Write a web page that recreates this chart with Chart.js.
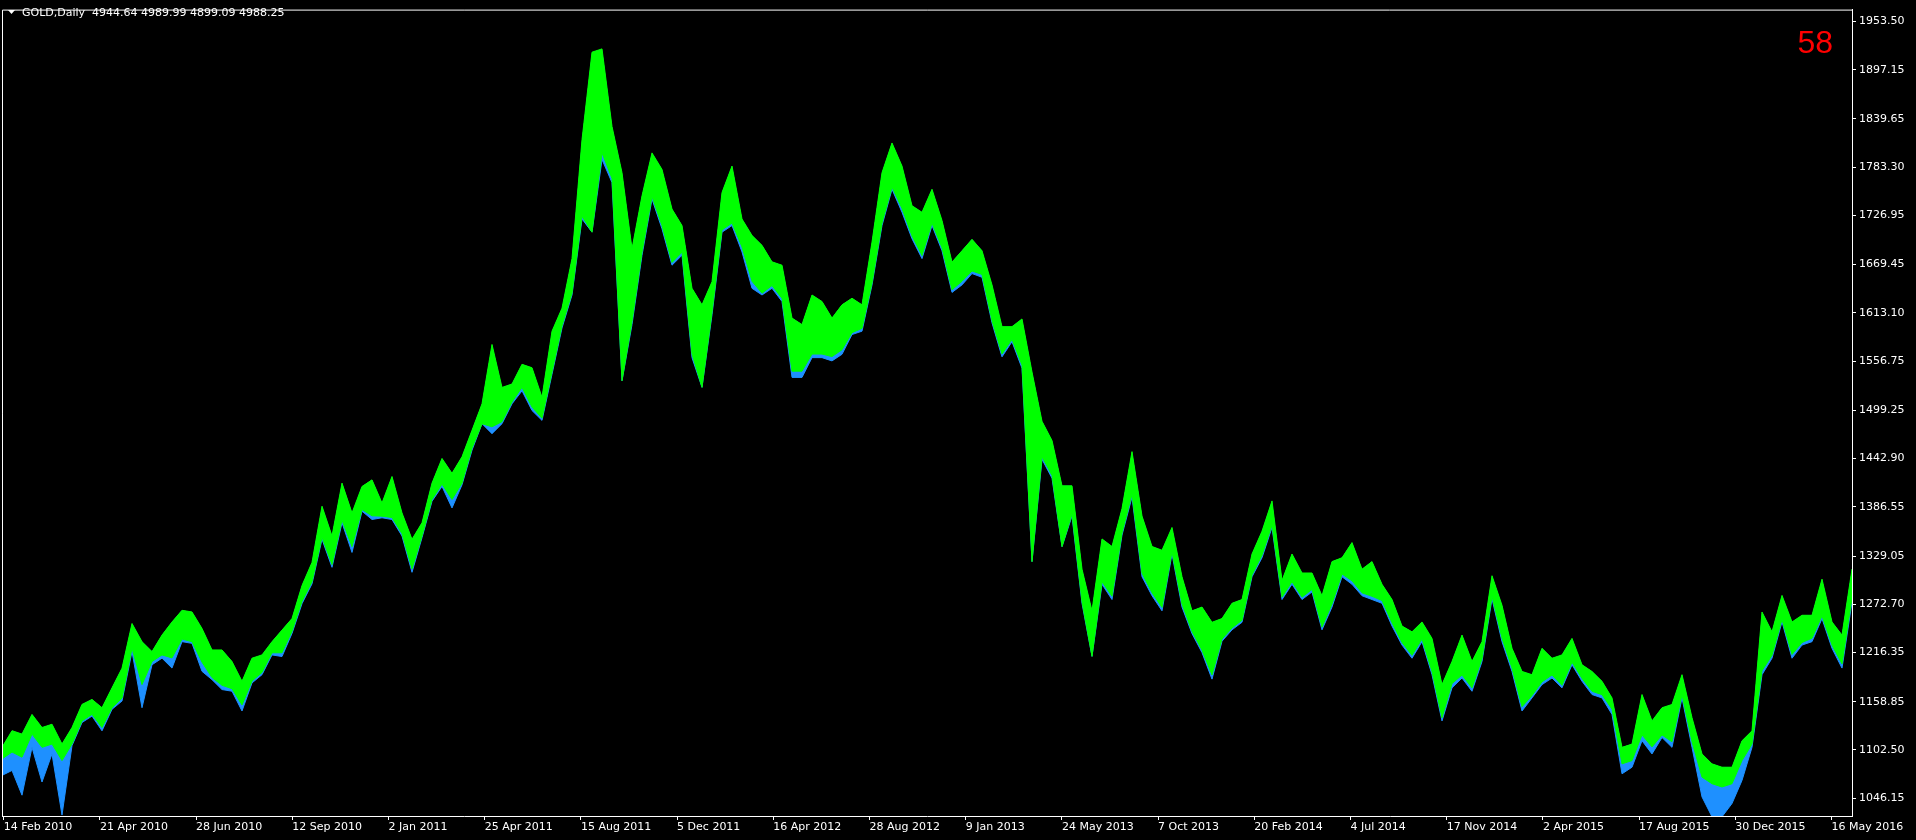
<!DOCTYPE html>
<html>
<head>
<meta charset="utf-8">
<script src="https://cdn.jsdelivr.net/npm/chart.js@4.4.1/dist/chart.umd.min.js"></script>
<style>
  html, body { margin: 0; padding: 0; background: #000; overflow: hidden; }
  canvas { display: block; }
</style>
</head>
<body>
<canvas id="chart" width="1916" height="840"></canvas>
<script>
const symbolTitle = 'GOLD,Daily  4944.64 4989.99 4899.09 4988.25';
const counterText = '58';

const dateLabels = ['14 Feb 2010', '21 Apr 2010', '28 Jun 2010', '12 Sep 2010', '2 Jan 2011',
  '25 Apr 2011', '15 Aug 2011', '5 Dec 2011', '16 Apr 2012', '28 Aug 2012', '9 Jan 2013',
  '24 May 2013', '7 Oct 2013', '20 Feb 2014', '4 Jul 2014', '17 Nov 2014', '2 Apr 2015',
  '17 Aug 2015', '30 Dec 2015', '16 May 2016'];

const priceTicks = [1953.50, 1897.15, 1839.65, 1783.30, 1726.95, 1669.45, 1613.10, 1556.75,
  1499.25, 1442.90, 1386.55, 1329.05, 1272.70, 1216.35, 1158.85, 1102.50, 1046.15];

// highest price in each slice of bars
const highs = [
  1105.5, 1125, 1121, 1144, 1128.7, 1132.5, 1109.4, 1128.7, 1155.7, 1161.5,
  1151.8, 1175, 1198, 1250.2, 1229, 1217.4, 1236.7, 1252, 1265.6, 1263.7,
  1244.4, 1219.3, 1219.3, 1205.8, 1182.7, 1209.7, 1213.5, 1229, 1242.5, 1256,
  1294.6, 1321.6, 1387.2, 1352.4, 1414.2, 1379.4, 1410.3, 1418, 1391, 1421.9,
  1379.4, 1348.6, 1367.9, 1414.2, 1443, 1425.7, 1445, 1475.9,
  1506.8, 1576.2, 1526, 1530, 1553, 1549, 1514.5, 1591.7, 1618.6, 1676.5,
  1815.4, 1917.7, 1921.5, 1830.9, 1776.9, 1688, 1749.8, 1800, 1780.7, 1734.4,
  1715.1, 1641.8, 1622.5, 1649.5, 1753.7, 1784.6, 1722.8, 1703.6, 1692, 1672.7,
  1668.8, 1607, 1599.4, 1634, 1626.4, 1607, 1622.5, 1630.2, 1622.5, 1695.8,
  1776.9, 1811.6, 1784.6, 1738.3, 1730.6, 1757.5,
  1721, 1672.4, 1685.7, 1699, 1685.7, 1645.8, 1597, 1597, 1606, 1544,
  1486.4, 1464, 1411, 1411, 1313.7, 1265, 1349, 1340.2, 1384.5, 1451,
  1375.7, 1340.2, 1335.8, 1362.4, 1304.8, 1265, 1269.4, 1251.6, 1256, 1273.8,
  1278.2, 1331.4, 1358, 1393.4, 1300.4, 1331.4, 1309.2, 1309.2, 1282.6, 1322.5,
  1327, 1344.7, 1313.7, 1322.5, 1296, 1278.2, 1247.2,
  1240.5, 1252, 1232.8, 1178.8, 1205.8, 1236.7, 1205.8, 1229, 1306, 1271.4,
  1221.2, 1194.2, 1190.4, 1221.2, 1209.6, 1213.5, 1232.8, 1202, 1194.2, 1182.7,
  1163.3, 1105.5, 1109.3, 1167.2, 1136.4, 1151.8, 1155.6, 1190.4, 1140.2, 1097.8,
  1086.2, 1082.3, 1082.3, 1113.2, 1124.8, 1263.6, 1240.5, 1283, 1252, 1259.8,
  1259.8, 1302, 1252, 1236.7, 1313.8
];

// lowest price reached by the up bars in each slice
const upLows = [
  1092, 1100, 1094, 1121, 1105.5, 1109.4, 1090, 1109.4, 1136.4, 1144,
  1128.7, 1151.8, 1163, 1221.3, 1178.8, 1205.8, 1213.5, 1210, 1232, 1229,
  1205, 1187, 1178, 1174, 1155, 1183, 1193, 1216, 1216, 1241,
  1276, 1299, 1351, 1319, 1371, 1340, 1383.3, 1376, 1375.6, 1374,
  1355, 1314, 1352.4, 1395, 1413, 1395, 1414.2, 1455,
  1483.6, 1480, 1486, 1509, 1526, 1503, 1490, 1544, 1598, 1636,
  1726, 1707.4, 1800, 1770, 1533.8, 1603, 1684, 1749, 1715, 1672,
  1684, 1565, 1526.1, 1614, 1710, 1718, 1690, 1650, 1636, 1645,
  1630, 1545, 1545, 1565, 1565, 1562, 1570, 1590, 1595, 1648,
  1718, 1760, 1735, 1703, 1680, 1718,
  1689, 1640, 1650, 1662, 1658, 1604, 1565, 1582, 1552, 1322.5,
  1445, 1423, 1340, 1378, 1276, 1211.8, 1299, 1282, 1356, 1401,
  1309, 1286, 1269, 1334, 1273, 1241, 1219, 1190, 1232, 1245,
  1254, 1307, 1330, 1365, 1281, 1299, 1281, 1290, 1246, 1273,
  1308, 1300, 1286, 1282, 1277, 1251, 1228,
  1213, 1232, 1194, 1140, 1180, 1190, 1175, 1209, 1282, 1233,
  1198, 1153, 1166, 1182, 1190, 1178, 1205, 1186, 1171, 1167,
  1150, 1086.2, 1090, 1120, 1106, 1120, 1112, 1167, 1112, 1070.7,
  1063, 1059.2, 1063, 1090, 1109.3, 1195, 1213, 1255, 1214, 1228,
  1233, 1259, 1225, 1203, 1280
];

// lowest price in each slice (down bars)
const lows = [
  1072.7, 1078.5, 1049.6, 1105.5, 1065, 1097.8, 1026.4, 1107.5, 1134.5, 1142,
  1124.8, 1149.9, 1159.6, 1217.4, 1151.8, 1202, 1209.7, 1198.1, 1229, 1227,
  1194.3, 1184.6, 1173, 1171.1, 1148, 1180.8, 1190.4, 1213.5, 1211.6, 1238.6,
  1273.4, 1296.5, 1348.6, 1315.8, 1367.9, 1333.2, 1381.4, 1371.7, 1373.7, 1371.7,
  1352.4, 1310, 1350.5, 1393, 1410.3, 1385.2, 1412.2, 1452.7,
  1483.6, 1472, 1483.6, 1506.8, 1522, 1499, 1487.5, 1541.5, 1595.5, 1634,
  1722.8, 1707.4, 1792.3, 1765.3, 1533.8, 1599.4, 1680.4, 1746, 1711.3, 1668.8,
  1680.4, 1560.8, 1526.1, 1610.9, 1707.4, 1715.1, 1684.3, 1641.8, 1634, 1641.8,
  1626.4, 1537.7, 1537.7, 1560.8, 1560.8, 1557, 1564.7, 1587.8, 1591.7, 1645.7,
  1715.1, 1757.5, 1730.6, 1699.7, 1676.5, 1715.1,
  1685.7, 1637, 1645.8, 1659, 1654.7, 1601.5, 1561.7, 1579.4, 1548.4, 1322.5,
  1442, 1420, 1340, 1375.7, 1273.8, 1211.8, 1296, 1278.2, 1353.5, 1397.8,
  1304.8, 1282.6, 1265, 1331.4, 1269.4, 1238.4, 1216.2, 1185.2, 1229.5, 1242.8,
  1251.6, 1304.8, 1327, 1362.4, 1278.2, 1296, 1278.2, 1287, 1242.8, 1269.4,
  1304.8, 1296, 1282.6, 1278.2, 1273.8, 1247.2, 1225,
  1209.6, 1229, 1190.4, 1136.4, 1175, 1186.5, 1171, 1205.8, 1279, 1229,
  1194.2, 1148, 1163.3, 1178.8, 1186.5, 1175, 1202, 1182.7, 1167.2, 1163.3,
  1144, 1074.6, 1082.3, 1113.2, 1097.8, 1117, 1105.5, 1163.3, 1105.5, 1047.6,
  1024.4, 1024.4, 1039.9, 1066.9, 1105.5, 1190.4, 1209.6, 1252.1, 1209.6, 1225,
  1229, 1255.9, 1221.2, 1198.1, 1275.2
];

const BAR_STEP = 10;      // bars per slice
const DATE_STEP = 96.2;   // bars between date labels
const UP_COLOR = '#00ff00';
const DOWN_COLOR = '#1e90ff';
const AXIS_FONT = { family: 'DejaVu Sans', size: 11 };

const toPoints = arr => arr.map((v, i) => ({ x: i * BAR_STEP, y: v }));

// MT4 style frame, header line and the red counter
const chartFrame = {
  id: 'chartFrame',
  afterDraw(chart) {
    const { ctx, chartArea } = chart;
    ctx.save();
    ctx.strokeStyle = '#ffffff';
    ctx.lineWidth = 1;
    ctx.beginPath();
    ctx.moveTo(chartArea.left + 0.5, chartArea.bottom);
    ctx.lineTo(chartArea.left + 0.5, chartArea.top + 0.5);
    ctx.lineTo(chartArea.right, chartArea.top + 0.5);
    ctx.stroke();

    ctx.fillStyle = '#ffffff';
    ctx.beginPath();
    ctx.moveTo(8, 10);
    ctx.lineTo(15, 10);
    ctx.lineTo(11.5, 14);
    ctx.closePath();
    ctx.fill();

    ctx.font = '11px "DejaVu Sans"';
    ctx.textBaseline = 'middle';
    ctx.fillText(symbolTitle, 22, 13);

    ctx.fillStyle = '#ff0000';
    ctx.font = '32px "Liberation Sans"';
    ctx.textBaseline = 'alphabetic';
    ctx.textAlign = 'right';
    ctx.fillText(counterText, chartArea.right - 19, 53);
    ctx.restore();
  }
};

const ctx = document.getElementById('chart');

const myChart = new Chart(ctx, {
  type: 'line',
  data: {
    datasets: [{
      label: 'up high',
      data: toPoints(highs),
      borderColor: UP_COLOR,
      backgroundColor: UP_COLOR,
      borderWidth: 1,
      fill: '+1',
      pointRadius: 0,
      tension: 0
    }, {
      label: 'up low',
      data: toPoints(upLows),
      borderColor: UP_COLOR,
      borderWidth: 1,
      fill: false,
      pointRadius: 0,
      tension: 0
    }, {
      label: 'down high',
      data: toPoints(highs),
      borderColor: DOWN_COLOR,
      backgroundColor: DOWN_COLOR,
      borderWidth: 0,
      fill: '+1',
      pointRadius: 0,
      tension: 0
    }, {
      label: 'down low',
      data: toPoints(lows),
      borderColor: DOWN_COLOR,
      borderWidth: 1,
      fill: false,
      pointRadius: 0,
      tension: 0
    }]
  },
  options: {
    responsive: false,
    animation: false,
    events: [],
    layout: { padding: { left: 2, top: 2, right: 0, bottom: 0 } },
    plugins: {
      legend: { display: false },
      tooltip: { enabled: false }
    },
    scales: {
      x: {
        type: 'linear',
        position: 'bottom',
        min: 0,
        max: 1850,
        afterBuildTicks: scale => {
          scale.ticks = dateLabels.map((d, k) => ({ value: 1.7 + k * DATE_STEP }));
        },
        afterFit: scale => { scale.height = 24; },
        grid: { drawOnChartArea: false, tickLength: 4, color: '#ffffff' },
        border: { display: true, color: '#ffffff' },
        ticks: {
          color: '#ffffff',
          font: AXIS_FONT,
          maxRotation: 0,
          autoSkip: false,
          align: 'start',
          padding: 1,
          callback: (value, index) => dateLabels[index]
        }
      },
      y: {
        type: 'linear',
        position: 'right',
        min: 1025.3,
        max: 1967.4,
        afterBuildTicks: scale => {
          scale.ticks = priceTicks.map(v => ({ value: v }));
        },
        afterFit: scale => { scale.width = 64; },
        grid: { drawOnChartArea: false, tickLength: 4, color: '#ffffff' },
        border: { display: true, color: '#ffffff' },
        ticks: {
          color: '#ffffff',
          font: AXIS_FONT,
          padding: 3,
          callback: value => value.toFixed(2)
        }
      }
    }
  },
  plugins: [chartFrame]
});
</script>
</body>
</html>
